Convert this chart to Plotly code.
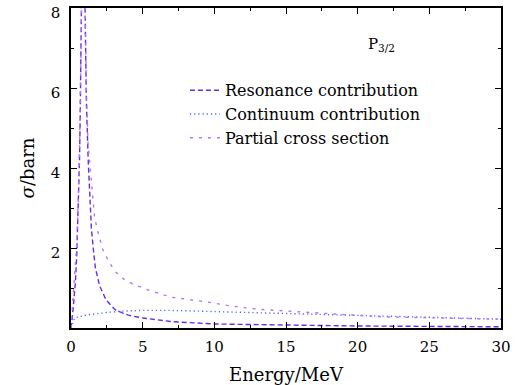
import plotly.graph_objects as go

# Resonance contribution
e_res = [0.0, 0.05, 0.1, 0.15, 0.2, 0.3, 0.4, 0.5, 0.6, 0.65, 0.7, 0.75, 0.8, 0.85, 0.9, 0.95, 1.0, 1.07,
         1.2, 1.3, 1.42, 1.55, 1.7, 2.0, 2.45, 3.1, 4.0, 5.0, 7.0, 10.0, 15.0, 20.0, 25.0, 30.0]
s_res = [0.0, 0.1, 0.3, 0.5, 0.65, 1.1, 1.8, 2.8, 4.3, 5.5, 6.8, 8.5, 11.0, 12.0, 10.5, 8.8, 7.4, 5.7,
         4.2, 3.2, 2.5, 2.0, 1.5, 1.05, 0.7, 0.45, 0.32, 0.25, 0.16, 0.1, 0.07, 0.05, 0.04, 0.03]

# Continuum contribution
e_con = [0.0, 0.1, 0.26, 0.5, 0.8, 1.2, 2.3, 3.5, 5.0, 7.0, 10.0, 15.0, 20.0, 25.0, 30.0]
s_con = [0.0, 0.12, 0.25, 0.28, 0.3, 0.33, 0.38, 0.42, 0.44, 0.44, 0.41, 0.36, 0.31, 0.26, 0.22]

# Partial cross section
e_par = [0.0, 0.1, 0.2, 0.3, 0.4, 0.5, 0.6, 0.7, 0.75, 0.8, 0.85, 0.9, 0.95, 1.0, 1.07, 1.19, 1.35,
         1.53, 1.65, 1.88, 2.23, 2.58, 3.05, 3.75, 4.5, 5.4, 7.0, 9.5, 11.0, 13.0, 15.0, 18.4, 21.6, 25.0, 30.0]
s_par = [0.0, 0.5, 0.9, 1.4, 2.1, 3.1, 4.6, 7.0, 8.6, 11.0, 12.0, 11.0, 9.0, 7.6, 6.0, 4.6, 3.9,
         3.1, 2.75, 2.4, 1.95, 1.7, 1.42, 1.2, 1.07, 0.95, 0.77, 0.65, 0.56, 0.47, 0.42, 0.35, 0.28, 0.25, 0.22]

x_ticks = [0, 5, 10, 15, 20, 25, 30]
y_ticks = [2, 4, 6, 8]

FONT = "DejaVu Serif"

fig = go.Figure()
fig.add_trace(go.Scatter(x=e_res, y=s_res, mode="lines", name="Resonance contribution",
                         line=dict(color="#6a2be0", width=1.4, dash="5px,3px")))
fig.add_trace(go.Scatter(x=e_con, y=s_con, mode="lines", name="Continuum contribution",
                         line=dict(color="#4a66ff", width=1.4, dash="1.2px,3px")))
fig.add_trace(go.Scatter(x=e_par, y=s_par, mode="lines", name="Partial cross section",
                         line=dict(color="#b274ff", width=1.4, dash="3px,6px")))

axis_common = dict(showline=True, linecolor="black", linewidth=1.5, mirror="ticks",
                   ticks="inside", ticklen=6, tickwidth=1.3, tickcolor="black",
                   showgrid=False, zeroline=False, automargin=False, ticklabeloverflow="allow",
                   tickfont=dict(family=FONT, size=15, color="black"))

fig.update_xaxes(range=[0, 30], tickvals=x_ticks, ticklabelstandoff=4,
                 minor=dict(ticks="inside", ticklen=3.5, tickwidth=1.2, tickcolor="black", dtick=2.5, showgrid=False),
                 title=dict(text="Energy/MeV", font=dict(family=FONT, size=18, color="black"), standoff=14),
                 **axis_common)
fig.update_yaxes(range=[0, 8], tickvals=y_ticks, ticklabelshift=5, ticklabelstandoff=6,
                 minor=dict(ticks="inside", ticklen=3.5, tickwidth=1.2, tickcolor="black", dtick=1, showgrid=False),
                 title=dict(text="<i>σ</i>/barn", font=dict(family=FONT, size=18, color="black"), standoff=11),
                 **axis_common)

fig.add_annotation(x=0.686, y=0.886, xref="paper", yref="paper", text="P<sub>3/2</sub>",
                   showarrow=False, font=dict(family=FONT, size=15, color="black"), xanchor="left", yanchor="middle")

fig.update_layout(width=516, height=385, margin=dict(l=71, r=15, t=8, b=57),
                  plot_bgcolor="white", paper_bgcolor="white",
                  legend=dict(x=0.265, y=0.796, xanchor="left", yanchor="top", bgcolor="rgba(0,0,0,0)",
                              font=dict(family=FONT, size=16, color="black"), itemwidth=30,
                              tracegroupgap=0),
                  showlegend=True)

fig.write_html("out.html")
